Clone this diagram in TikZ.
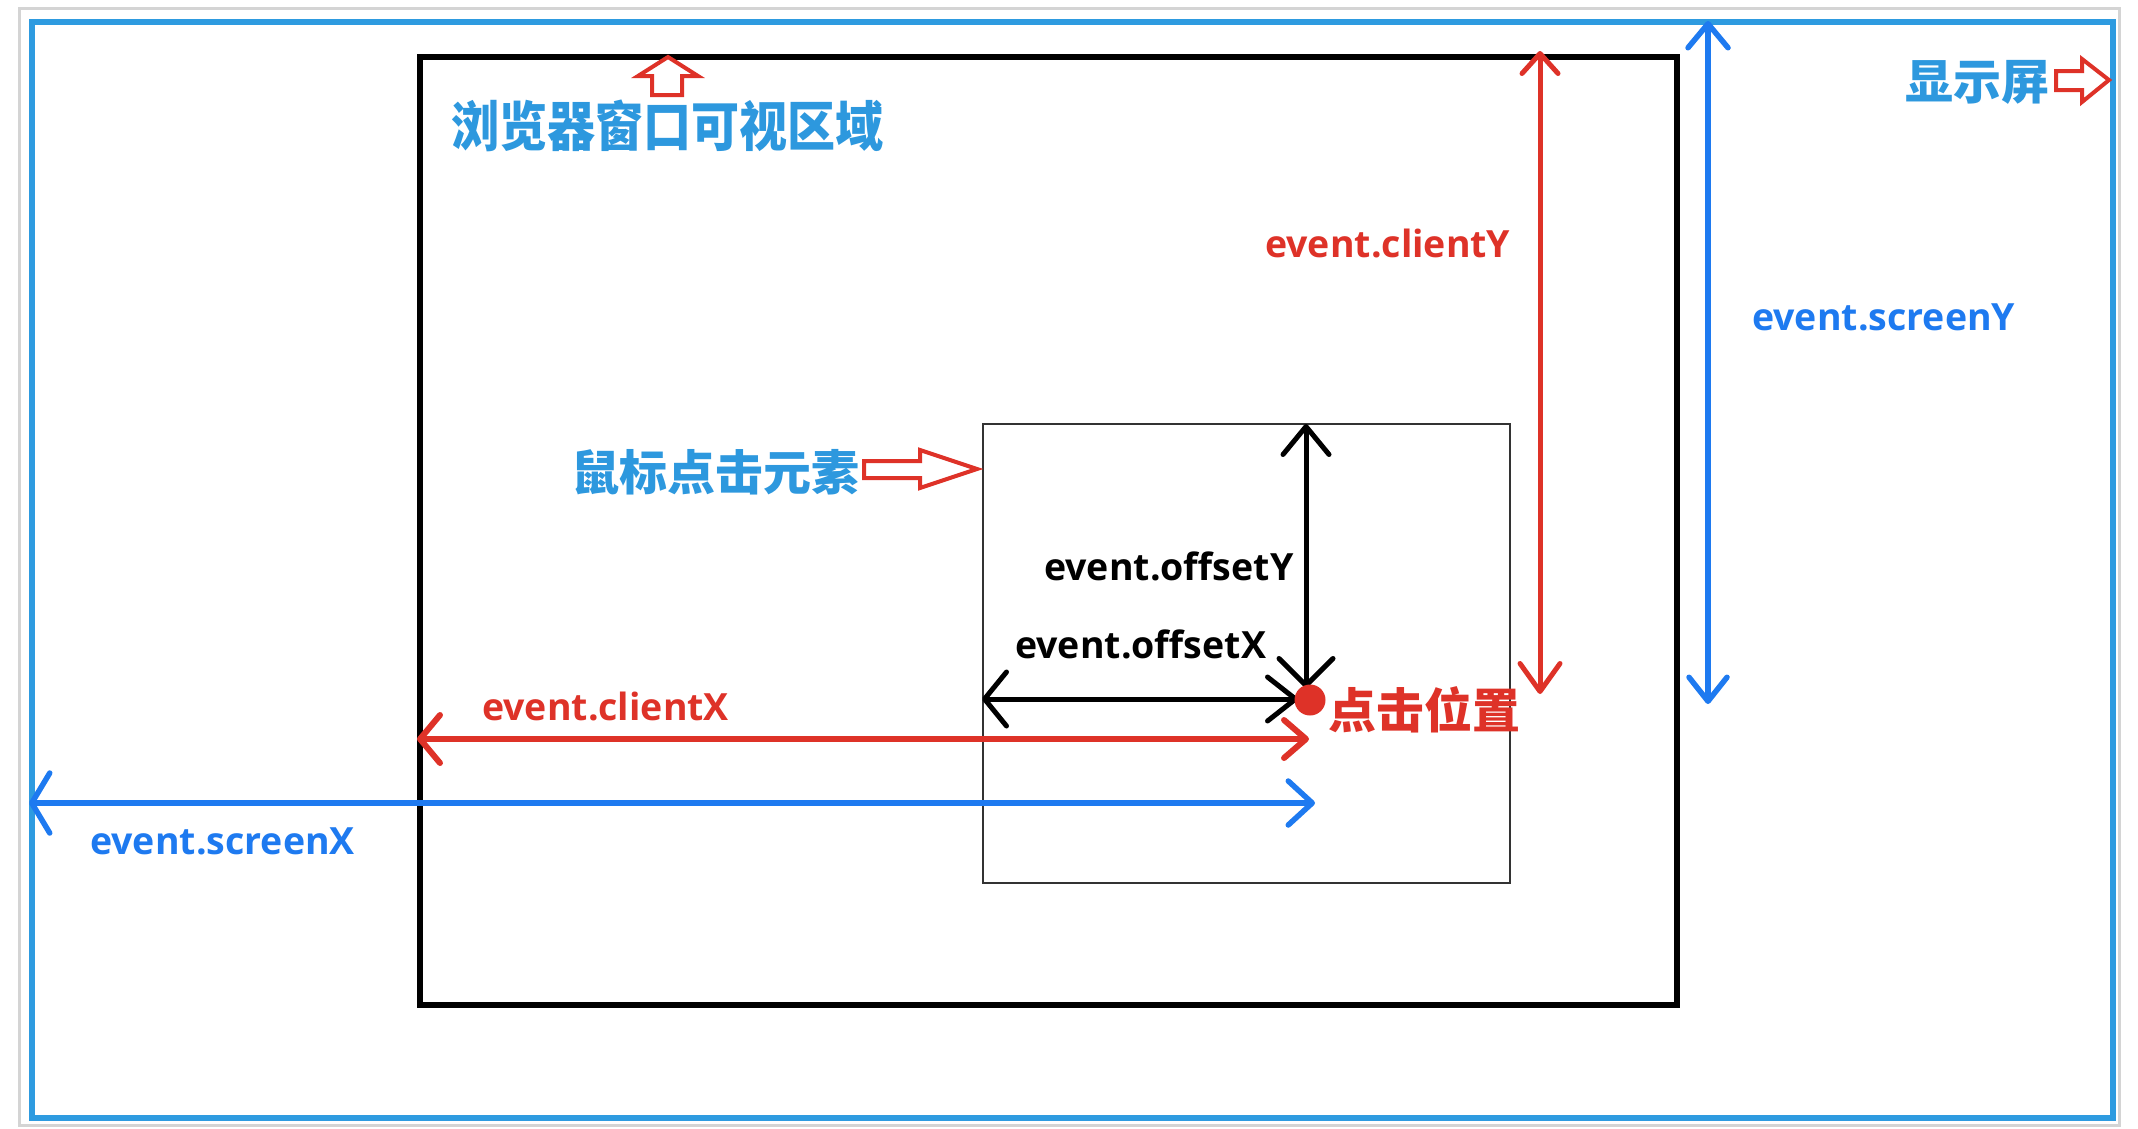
\documentclass[tikz,border=0pt]{standalone}
\usepackage{fontspec}
\setmainfont{Open Sans}
\newfontfamily\cjk{Noto Sans CJK SC}
\usetikzlibrary{arrows.meta}
\definecolor{cjkblue}{RGB}{45,152,222}
\definecolor{scrblue}{RGB}{46,155,224}
\definecolor{arrblue}{RGB}{30,122,240}
\definecolor{myred}{RGB}{222,50,40}
\definecolor{framegray}{RGB}{212,212,212}
\begin{document}
\begin{tikzpicture}[x=1pt,y=-1pt,
  lat/.style={inner sep=0pt, anchor=base west, font=\fontsize{37.5}{40}\selectfont\bfseries},
  cjkl/.style={inner sep=0pt, anchor=base west, text=cjkblue, font=\fontsize{48}{50}\selectfont\cjk\bfseries},
  box/.style={draw, inner sep=0pt, anchor=north west},
  hollow/.style={draw=myred, line width=4pt, line join=miter, fill=white},
  redarr/.style={draw=myred, line width=5pt},
  bluearr/.style={draw=arrblue, line width=5.5pt},
  blackarr/.style={draw=black, line width=5pt}
]
\useasboundingbox (0,0) rectangle (2138,1128);
% frames
\node[box, draw=framegray, line width=2.5pt, minimum width=2100pt, minimum height=1117pt] (frame) at (18,7) {};
\node[box, draw=scrblue, line width=6pt, minimum width=2081pt, minimum height=1096.5pt] (screen) at (29,18.5) {};
\node[box, draw=black, line width=6pt, minimum width=1257pt, minimum height=948pt] (viewport) at (417,54) {};
\node[box, draw=black!80, line width=2pt, minimum width=527pt, minimum height=459pt] (element) at (982,423) {};

% hollow pointer arrows
\draw[hollow] (668,57) -- (698,76) -- (682,76) -- (682,95) -- (652,95) -- (652,76) -- (638,76) -- cycle;
\draw[hollow] (864,461) -- (920,461) -- (920,450) -- (977,469) -- (920,488) -- (920,478) -- (864,478) -- cycle;
\draw[hollow] (2056,71) -- (2082,71) -- (2082,59) -- (2109,80) -- (2082,102) -- (2082,90) -- (2056,90) -- cycle;

% labels
\node[cjkl, font=\fontsize{54}{56}\selectfont\cjk\bfseries] (viewlbl) at (451,146.5) {\scalebox{0.89}[1]{浏览器窗口可视区域}};
\node[cjkl] (elemlbl) at (571,490) {鼠标点击元素};
\node[cjkl] (scrlbl) at (1905,99) {显示屏};
\node[cjkl, text=myred] (clicklbl) at (1328,728) {点击位置};

\node[lat, text=myred] (cy) at (1265,257) {event.clientY};
\node[lat, text=arrblue] (sy) at (1752,330) {event.screenY};
\node[lat, text=myred] (cx) at (482,720) {event.clientX};
\node[lat, text=arrblue] (sx) at (90,854) {event.screenX};
\node[lat] (oy) at (1044,580) {event.offsetY};
\node[lat] (ox) at (1015,658) {event.offsetX};

% arrow end points
\coordinate (cyT) at (1540,51);
\coordinate (cyB) at (1540,694);
\coordinate (syT) at (1708,21);
\coordinate (syB) at (1708,704);
\coordinate (cxL) at (417,739);
\coordinate (cxR) at (1309,739);
\coordinate (sxL) at (29,803);
\coordinate (sxR) at (1315,803);
\coordinate (oyT) at (1306,424);
\coordinate (oyB) at (1306,688);
\coordinate (oxL) at (982,699);
\coordinate (oxR) at (1298,699);

% measurement arrows
\draw[redarr, {Straight Barb[length=20pt,width=36pt,round]}-{Straight Barb[length=28pt,width=40pt,round]}] (cyT) -- (cyB);
\draw[bluearr, {Straight Barb[length=24pt,width=40pt,round]}-{Straight Barb[length=24pt,width=38pt,round]}] (syT) -- (syB);
\draw[redarr, line width=6pt, {Straight Barb[length=20pt,width=48pt,round]}-{Straight Barb[length=22pt,width=38pt,round]}] (cxL) -- (cxR);
\draw[bluearr, {Straight Barb[length=18pt,width=60pt,round]}-{Straight Barb[length=24pt,width=44pt,round]}] (sxL) -- (sxR);
\draw[blackarr, {Straight Barb[length=28pt,width=46pt,round]}-{Straight Barb[length=27pt,width=54pt,round]}] (oyT) -- (oyB);
\draw[blackarr, {Straight Barb[length=22pt,width=54pt,round]}-{Straight Barb[length=28pt,width=44pt,round]}] (oxL) -- (oxR);

% click point
\node[circle, fill=myred, minimum size=31pt, inner sep=0pt] (click) at (1310,700) {};
\end{tikzpicture}
\end{document}
